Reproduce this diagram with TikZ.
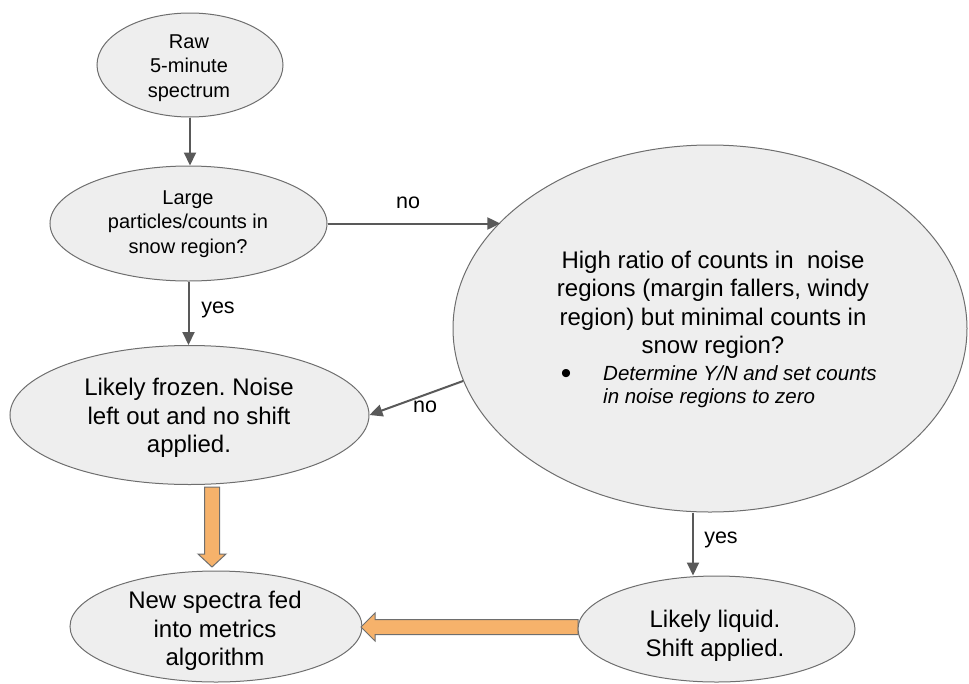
\documentclass[tikz,border=0pt]{standalone}
\usepackage{fontspec}
\setmainfont{Liberation Sans}
\usetikzlibrary{arrows.meta,shapes.geometric}
\definecolor{efill}{HTML}{EEEEEE}
\definecolor{estroke}{HTML}{6E6E6E}
\definecolor{agray}{HTML}{595959}
\definecolor{oran}{HTML}{F6B26B}
\begin{document}
\frenchspacing
\begin{tikzpicture}[x=1pt,y=-1pt,
  blob/.style={ellipse, draw=estroke, fill=efill, line width=1pt, inner sep=0pt},
  smalltxt/.style={align=center, inner sep=0pt, font=\fontsize{20}{24.5}\selectfont},
  bigtxt/.style={align=center, inner sep=0pt, font=\fontsize{24}{28.5}\selectfont},
  ittxt/.style={align=left, inner sep=0pt, font=\fontsize{20.5}{23}\selectfont\itshape},
  lbl/.style={inner sep=0pt, font=\fontsize{21.5}{24}\selectfont},
  arr/.style={draw=agray, line width=2pt, -{Triangle[length=13pt,width=12pt]}},
  oarrow/.style={draw=estroke, fill=oran, line width=1pt, line join=miter}]
\useasboundingbox (0,0) rectangle (969,683);

% ellipses
\node[blob, minimum width=186pt, minimum height=104pt] (raw) at (190,65) {};
\node[blob, minimum width=277pt, minimum height=115pt] (large) at (188.5,223.5) {};
\node[blob, minimum width=514pt, minimum height=367pt] (big) at (710,328.5) {};
\node[blob, minimum width=359pt, minimum height=139pt] (frozen) at (189.5,415) {};
\node[blob, minimum width=292pt, minimum height=111pt] (new) at (216,626.5) {};

% orange arrows
\coordinate (od) at (212,487);
\coordinate (oh) at (578,627);
\draw[oarrow] (od) ++(-7.5,0) -- ++(15,0) -- ++(0,67) -- ++(6.5,0) -- ++(-14,13) -- ++(-14,-13) -- ++(6.5,0) -- cycle;
\draw[oarrow] (oh) ++(0,-7.5) -- ++(-203,0) -- ++(0,-6.5) -- ++(-14,14) -- ++(14,14) -- ++(0,-6.5) -- ++(203,0) -- cycle;

\node[blob, minimum width=277pt, minimum height=106pt] (liquid) at (716.5,629) {};

% texts
\node[smalltxt] (rawt) at (189,68) {Raw\\5-minute\\spectrum};
\node[smalltxt] (larget) at (188,224) {Large\\particles/counts in\\snow region?};
\node[bigtxt] (bigt) at (713,305) {High ratio of counts in~ noise\\regions (margin fallers, windy\\region) but minimal counts in\\snow region?};
\node[inner sep=0pt, font=\fontsize{30}{30}\selectfont] (bul) at (566,376) {•};
\node[ittxt, anchor=west] (dett) at (603,387) {Determine Y/N and set counts\\in noise regions to zero};
\node[bigtxt] (frozent) at (189,418) {Likely frozen. Noise\\left out and no shift\\applied.};
\node[bigtxt] (newt) at (215,631) {New spectra fed\\into metrics\\algorithm};
\node[bigtxt] (liqt) at (715,636) {Likely liquid.\\Shift applied.};

% connectors
\draw[arr] (raw.south) -- (raw.south |- large.north);
\draw[arr] (large.east) -- (large.east -| big.153.5);
\draw[arr] (large.south) -- (large.south |- frozen.north);
\draw[arr] (big.192) -- (frozen.east);
\coordinate (yx) at (693,0);
\draw[arr] (big.south -| yx) -- (liquid.north -| yx);

% labels
\node[lbl] (l1) at (408,203) {no};
\node[lbl] (l2) at (218,310) {yes};
\node[lbl] (l3) at (425,407) {no};
\node[lbl] (l4) at (721,540) {yes};
\end{tikzpicture}
\end{document}
